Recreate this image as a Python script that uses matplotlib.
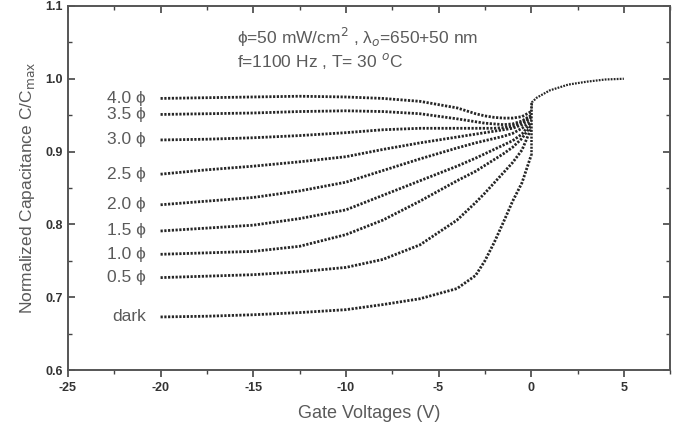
import numpy as np
import matplotlib.pyplot as plt
from matplotlib.ticker import MultipleLocator

plt.rcParams['font.family'] = ['Liberation Sans', 'DejaVu Sans']
plt.rcParams['axes.unicode_minus'] = False

# gate voltage points (V), shared by all curves on the negative side
v_neg = [-20, -17.5, -15, -12.5, -10, -8, -6, -4, -3, -2.5, -2, -1.5, -1, -0.5, 0]

c_dark = [0.673, 0.674, 0.676, 0.679, 0.683, 0.690, 0.698, 0.712, 0.730, 0.750, 0.775, 0.803, 0.832, 0.857, 0.895]
c_05 = [0.727, 0.729, 0.731, 0.735, 0.741, 0.752, 0.772, 0.806, 0.830, 0.843, 0.857, 0.871, 0.885, 0.902, 0.932]
c_10 = [0.759, 0.761, 0.763, 0.770, 0.786, 0.806, 0.832, 0.860, 0.873, 0.881, 0.889, 0.897, 0.906, 0.918, 0.936]
c_15 = [0.791, 0.795, 0.799, 0.808, 0.820, 0.840, 0.860, 0.880, 0.891, 0.897, 0.903, 0.909, 0.915, 0.924, 0.940]
c_20 = [0.827, 0.832, 0.837, 0.846, 0.858, 0.874, 0.890, 0.905, 0.912, 0.915, 0.918, 0.921, 0.925, 0.932, 0.942]
c_25 = [0.869, 0.875, 0.880, 0.886, 0.893, 0.903, 0.912, 0.920, 0.924, 0.926, 0.928, 0.930, 0.932, 0.937, 0.946]
c_30 = [0.916, 0.917, 0.919, 0.922, 0.926, 0.930, 0.932, 0.932, 0.932, 0.932, 0.932, 0.933, 0.935, 0.940, 0.948]
c_35 = [0.951, 0.952, 0.953, 0.955, 0.956, 0.955, 0.952, 0.945, 0.941, 0.939, 0.938, 0.937, 0.938, 0.942, 0.950]
c_40 = [0.973, 0.974, 0.975, 0.976, 0.975, 0.973, 0.969, 0.960, 0.952, 0.949, 0.947, 0.946, 0.946, 0.948, 0.955]

# vertical jump at 0 V where all curves meet
v_jump = [0, 0]
c_jump = [0.895, 0.968]

# common branch for positive bias
v_pos = [0, 0.05, 0.3, 1, 2, 3, 4, 5]
c_pos = [0.955, 0.968, 0.974, 0.984, 0.992, 0.996, 0.999, 1.000]

curves = [c_dark, c_05, c_10, c_15, c_20, c_25, c_30, c_35, c_40]
labels = ['dark', '0.5 ϕ', '1.0 ϕ', '1.5 ϕ', '2.0 ϕ', '2.5 ϕ', '3.0 ϕ', '3.5 ϕ', '4.0 ϕ']

line_col = '#262626'
text_col = '#5a5a5a'
dots = (0, (0.8, 0.55))

fig = plt.figure(figsize=(6.79, 4.23), dpi=100)
ax = fig.add_axes([0.100, 0.125, 0.887, 0.861])

for c, lab in zip(curves, labels):
    ax.plot(v_neg, c, color=line_col, linestyle=dots, linewidth=2.0)
    ax.text(-20.8, c[0], lab, ha='right', va='center', fontsize=12.5, color=text_col)
ax.plot(v_jump, c_jump, color=line_col, linestyle=dots, linewidth=1.8)
ax.plot(v_pos, c_pos, color=line_col, linestyle=dots, linewidth=1.6)

ax.set_xlim(-25, 7.5)
ax.set_ylim(0.6, 1.1)
ax.xaxis.set_major_locator(MultipleLocator(5))
ax.xaxis.set_minor_locator(MultipleLocator(2.5))
ax.yaxis.set_major_locator(MultipleLocator(0.1))
ax.yaxis.set_minor_locator(MultipleLocator(0.05))
ax.yaxis.set_major_formatter(plt.FormatStrFormatter('%.1f'))

ax.tick_params(axis='x', which='both', direction='out', colors='#444444', labelcolor='#333333')
ax.tick_params(axis='x', which='major', length=5, width=1.2, labelsize=9)
ax.tick_params(axis='x', which='minor', length=3, width=1.0)
ax.tick_params(axis='y', which='both', direction='in', right=True, colors='#444444', labelcolor='#333333')
ax.tick_params(axis='y', which='major', length=5, width=1.2, labelsize=9)
ax.tick_params(axis='y', which='minor', length=3, width=1.0)
for t in ax.get_xticklabels() + ax.get_yticklabels():
    t.set_fontweight('bold')

top = ax.secondary_xaxis('top')
top.xaxis.set_major_locator(MultipleLocator(5))
top.xaxis.set_minor_locator(MultipleLocator(2.5))
top.tick_params(which='both', direction='in', labeltop=False, colors='#444444')
top.tick_params(which='major', length=5, width=1.2)
top.tick_params(which='minor', length=3, width=1.0)
top.spines['top'].set_visible(False)

for s in ax.spines.values():
    s.set_color('#555555')
    s.set_linewidth(1.4)

ax.set_xlabel('Gate Voltages (V)', fontsize=13, color=text_col, labelpad=8)
ax.set_ylabel('Normalized Capacitance C/C$_{\\mathrm{max}}$', fontsize=12.5, color=text_col, labelpad=6)

ax.text(-15.9, 1.057, 'ϕ=50 mW/cm$^2$ , λ$_o$=650+50 nm', fontsize=12.5, color=text_col, va='center')
ax.text(-15.9, 1.024, 'f=1100 Hz , T= 30 $^o$C', fontsize=12.5, color=text_col, va='center')

fig.savefig('out.png', dpi=100)
